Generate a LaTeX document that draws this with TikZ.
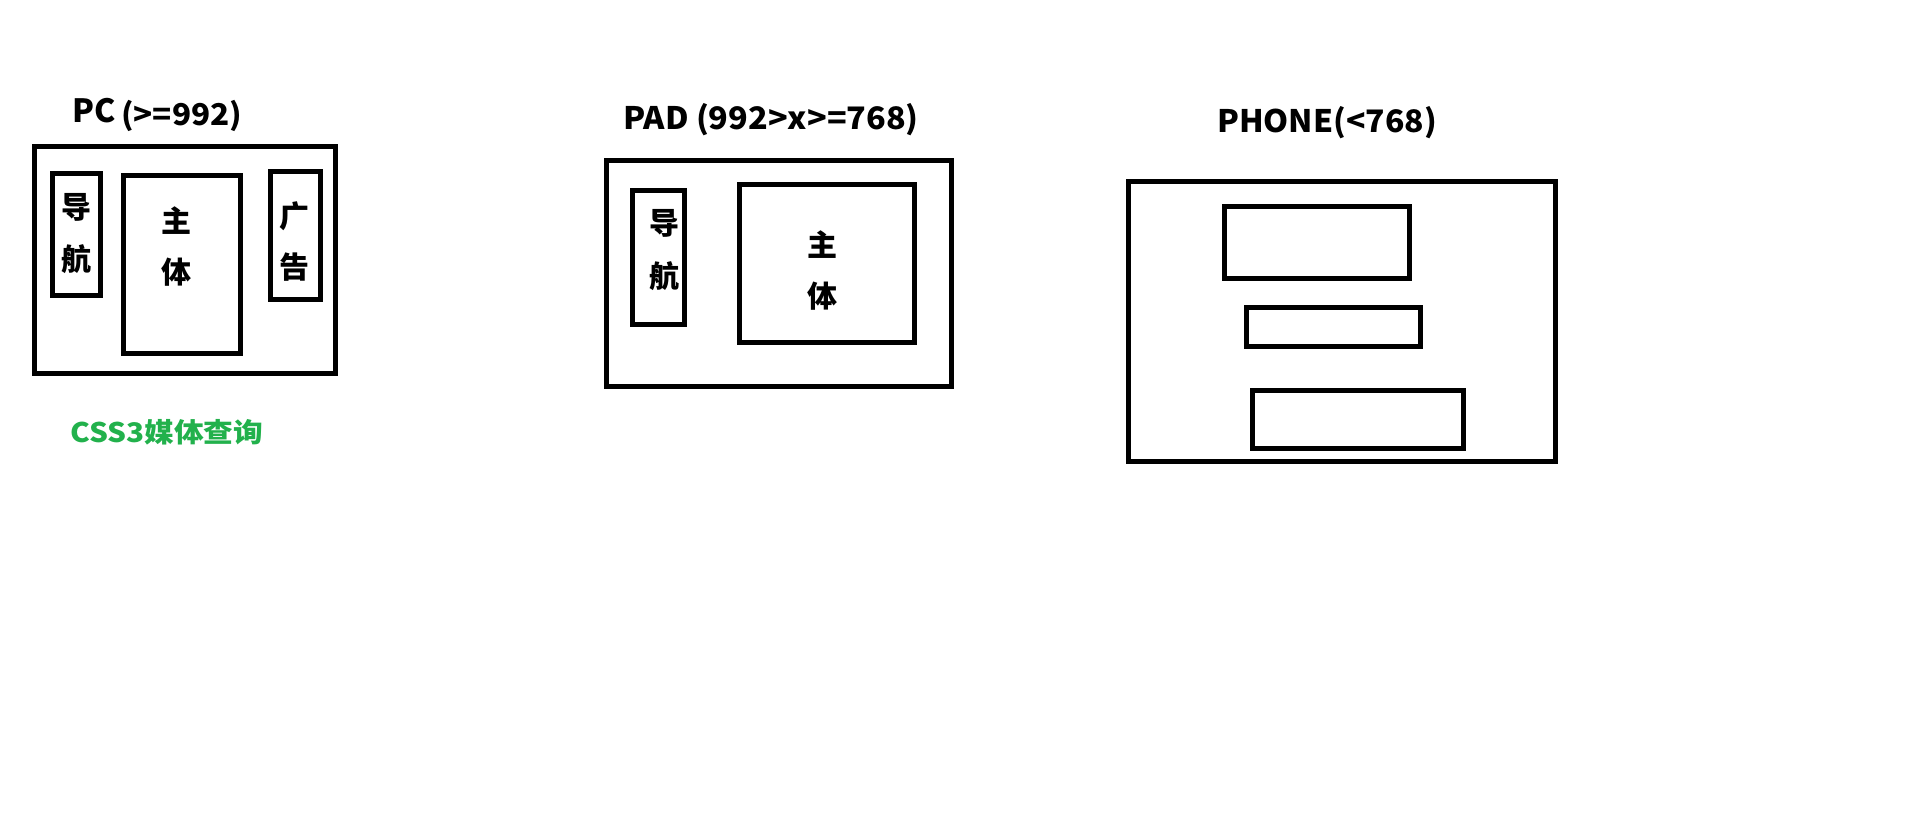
\documentclass[tikz,border=0pt]{standalone}
\usepackage{fontspec}
\setmainfont{Noto Sans CJK SC}
\definecolor{paintgreen}{HTML}{22B14C}
\tikzset{
  frame/.style={draw=black,line width=5pt},
  lbl/.style={inner sep=0pt,anchor=base west,font=\bfseries\fontsize{31}{31}\selectfont},
  ch/.style={inner sep=0pt,anchor=center,font=\bfseries\fontsize{30}{30}\selectfont},
}
\begin{document}
\begin{tikzpicture}[x=1pt,y=-1pt]
\useasboundingbox (0,0) rectangle (1914,824);
% PC
\node[lbl,font=\bfseries\fontsize{32}{32}\selectfont] (pct) at (72,123) {PC};
\node[lbl,font=\bfseries\fontsize{30}{30}\selectfont\addfontfeature{FakeStretch=1.05}] (pcr) at (121,126) {(>=992)};
\draw[frame] (34.5,146.5) rectangle (335.5,373);
\draw[frame] (52.5,173.5) rectangle (100,295);
\draw[frame] (123.5,175.5) rectangle (240,353);
\draw[frame] (270.5,171.5) rectangle (320.5,299);
\node[ch] (pc1) at (76.5,207.5) {导};
\node[ch] (pc2) at (76.5,259) {航};
\node[ch] (pc3) at (176.5,220.5) {主};
\node[ch] (pc4) at (176.5,272) {体};
\node[ch] (pc5) at (294.5,216.5) {广};
\node[ch] (pc6) at (294.5,267.5) {告};
\node[lbl,font=\bfseries\fontsize{27}{27}\selectfont\addfontfeature{FakeStretch=1.1},text=paintgreen] (css) at (70,442) {CSS3媒体查询};
% PAD
\node[lbl,font=\bfseries\fontsize{31}{31}\selectfont\addfontfeature{FakeStretch=1.045}] (padt) at (623,130) {PAD (992>x>=768)};
\draw[frame] (606.5,160.5) rectangle (951.5,386.5);
\draw[frame] (632.5,190.5) rectangle (684.5,324.5);
\draw[frame] (739.5,184.5) rectangle (914.5,342.5);
\node[ch] (pd1) at (664,223.5) {导};
\node[ch] (pd2) at (664,276) {航};
\node[ch] (pd3) at (822.5,245) {主};
\node[ch] (pd4) at (822.5,296) {体};
% PHONE
\node[lbl,font=\bfseries\fontsize{31}{31}\selectfont\addfontfeature{FakeStretch=1.03}] (pht) at (1217,133) {PHONE(<768)};
\draw[frame] (1128.5,181.5) rectangle (1555.5,461.5);
\draw[frame] (1224.5,206.5) rectangle (1409.5,278.5);
\draw[frame] (1246.5,307.5) rectangle (1420.5,346.5);
\draw[frame] (1252.5,390.5) rectangle (1463.5,448.5);
\end{tikzpicture}
\end{document}
